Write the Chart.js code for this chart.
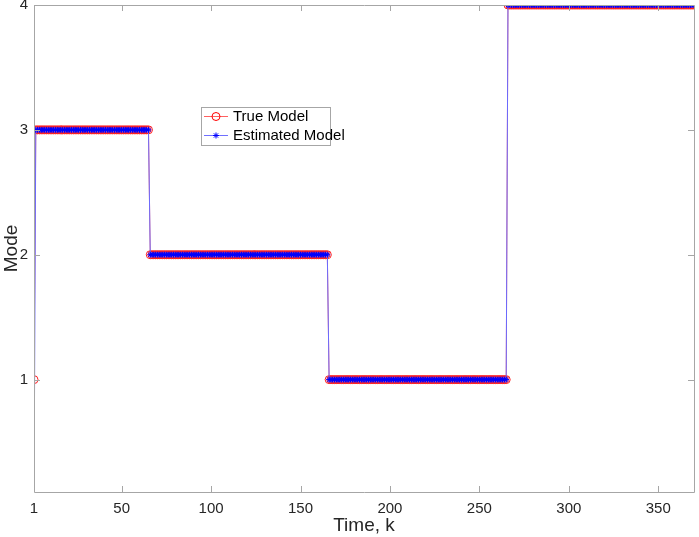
<!DOCTYPE html>
<html><head><meta charset="utf-8">
<script src="https://cdn.jsdelivr.net/npm/chart.js@4/dist/chart.umd.min.js"></script>
<style>html,body{margin:0;padding:0;background:#fff}canvas{display:block}</style>
</head><body>
<canvas id="c" width="699" height="537"></canvas>
<script>
// Step segments: each mode value holds until segmentEnd (time k)
const segmentEnds = [1, 65, 165, 265, 370];
const trueModes = [1, 3, 2, 1, 4];
const estimatedModes = [0, 3, 2, 1, 4];
const xTicks = [1, 50, 100, 150, 200, 250, 300, 350];
const yTicks = [1, 2, 3, 4];
const seriesNames = ['True Model', 'Estimated Model'];

function expand(ends, vals) {
  const out = [];
  let k = 1;
  for (let i = 0; i < ends.length; i++) {
    for (; k <= ends[i]; k++) out.push({x: k, y: vals[i]});
  }
  return out;
}

const FONT = '"Liberation Sans", Arial, Helvetica, sans-serif';
const AX = '#a6a6a6';

const boxPlugin = {
  id: 'boxTicks',
  afterDatasetsDraw(chart) {
    const {ctx, chartArea: a, scales} = chart;
    ctx.save();
    ctx.strokeStyle = AX;
    ctx.lineWidth = 1;
    ctx.beginPath();
    ctx.rect(Math.round(a.left) + 0.5, Math.round(a.top) + 0.5, Math.round(a.right - a.left), Math.round(a.bottom - a.top));
    ctx.stroke();
    ctx.beginPath();
    const L = 6;
    xTicks.forEach(v => {
      const px = Math.round(scales.x.getPixelForValue(v)) + 0.5;
      ctx.moveTo(px, a.bottom); ctx.lineTo(px, a.bottom - L);
      ctx.moveTo(px, a.top); ctx.lineTo(px, a.top + L);
    });
    yTicks.forEach(v => {
      const py = Math.round(scales.y.getPixelForValue(v)) + 0.5;
      ctx.moveTo(a.left, py); ctx.lineTo(a.left + L, py);
      ctx.moveTo(a.right, py); ctx.lineTo(a.right - L, py);
    });
    ctx.stroke();
    ctx.restore();
  },
  afterDraw(chart) {
    const ctx = chart.ctx;
    ctx.save();
    const bx = 201.5, by = 107.5, bw = 129, bh = 38;
    ctx.fillStyle = '#fff';
    ctx.fillRect(bx, by, bw, bh);
    ctx.strokeStyle = AX;
    ctx.lineWidth = 1;
    ctx.strokeRect(bx, by, bw, bh);
    const rows = [by + 9, by + 28];
    ctx.strokeStyle = '#ff6060';
    ctx.beginPath(); ctx.moveTo(204, rows[0]); ctx.lineTo(228, rows[0]); ctx.stroke();
    ctx.strokeStyle = '#ff0000';
    ctx.beginPath(); ctx.arc(216, rows[0], 4, 0, Math.PI * 2); ctx.stroke();
    ctx.strokeStyle = '#7070ff';
    ctx.beginPath(); ctx.moveTo(204, rows[1]); ctx.lineTo(228, rows[1]); ctx.stroke();
    ctx.strokeStyle = '#0000ff';
    ctx.beginPath();
    for (let i = 0; i < 4; i++) {
      const ang = i * Math.PI / 4;
      ctx.moveTo(216 - 3 * Math.cos(ang), rows[1] - 3 * Math.sin(ang));
      ctx.lineTo(216 + 3 * Math.cos(ang), rows[1] + 3 * Math.sin(ang));
    }
    ctx.stroke();
    ctx.fillStyle = '#000';
    ctx.font = '15px ' + FONT;
    ctx.textBaseline = 'middle';
    ctx.fillText(seriesNames[0], 233, rows[0]);
    ctx.fillText(seriesNames[1], 233, rows[1]);
    ctx.restore();
  }
};

new Chart(document.getElementById('c'), {
  type: 'line',
  data: {
    datasets: [
      {
        label: seriesNames[1],
        data: expand(segmentEnds, estimatedModes),
        borderColor: '#6a6aff',
        borderWidth: 1,
        pointStyle: 'star',
        pointRadius: 3,
        pointBorderColor: '#0000ff',
        pointBorderWidth: 1,
        pointBackgroundColor: '#0000ff',
        fill: false,
        tension: 0,
        order: 1
      },
      {
        label: seriesNames[0],
        data: expand(segmentEnds, trueModes),
        borderColor: '#ff6a6a',
        borderWidth: 1,
        pointStyle: 'circle',
        pointRadius: 4,
        pointBorderColor: '#ff2020',
        pointBorderWidth: 1,
        pointBackgroundColor: 'rgba(0,0,0,0)',
        fill: false,
        tension: 0,
        order: 2
      }
    ]
  },
  options: {
    responsive: false,
    animation: false,
    devicePixelRatio: 1,
    layout: {padding: {top: 5, right: 4, left: 0, bottom: 0}},
    plugins: {legend: {display: false}, tooltip: {enabled: false}},
    scales: {
      x: {
        type: 'linear', min: 1, max: 370,
        border: {display: false},
        grid: {display: false, drawTicks: false},
        afterBuildTicks(s) { s.ticks = xTicks.map(v => ({value: v})); },
        afterFit(s) { s.height = 45; s.paddingLeft = 0; s.paddingRight = 0; },
        ticks: {color: '#262626', font: {family: FONT, size: 15}, padding: 8, maxRotation: 0, autoSkip: false},
        title: {display: true, text: 'Time, k', color: '#262626', font: {family: FONT, size: 19}, padding: {top: 0, bottom: 0}}
      },
      y: {
        type: 'linear', min: 0.1, max: 4,
        border: {display: false},
        grid: {display: false, drawTicks: false},
        afterBuildTicks(s) { s.ticks = yTicks.map(v => ({value: v})); },
        afterFit(s) { s.width = 34; s.paddingTop = 0; s.paddingBottom = 0; },
        ticks: {color: '#262626', font: {family: FONT, size: 15}, padding: 6, autoSkip: false},
        title: {display: true, text: 'Mode', color: '#262626', font: {family: FONT, size: 19}, padding: {top: 0, bottom: 0}}
      }
    }
  },
  plugins: [boxPlugin]
});
</script>
</body></html>
